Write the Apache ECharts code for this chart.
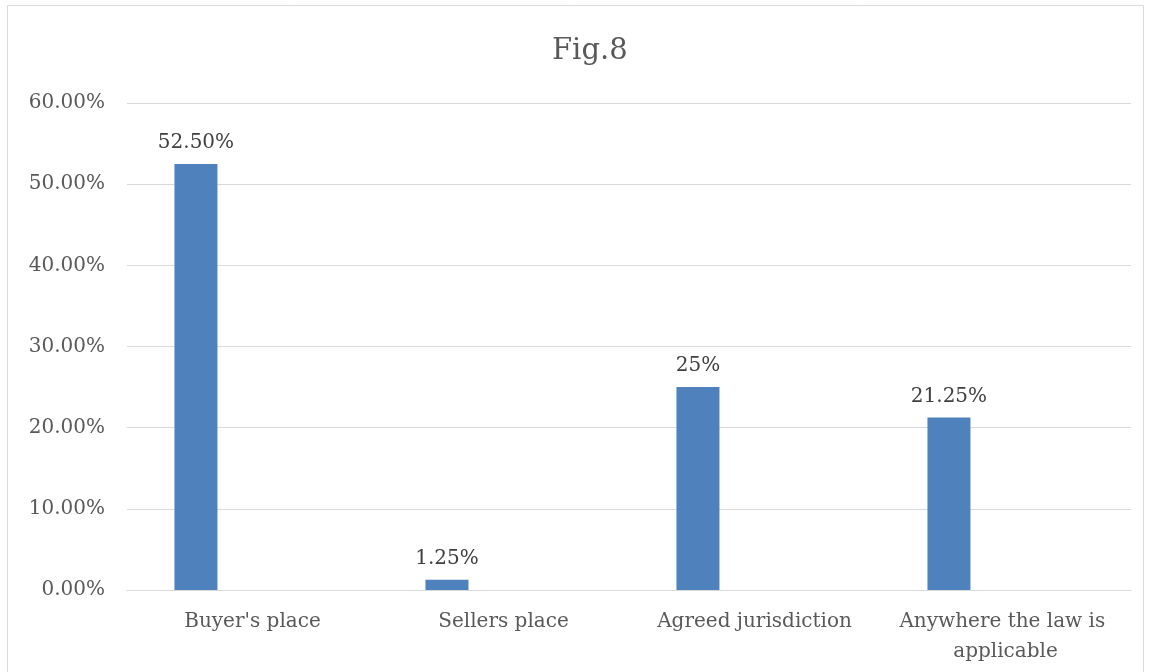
<!DOCTYPE html>
<html>
<head>
<meta charset="utf-8">
<script src="https://cdn.jsdelivr.net/npm/echarts@6/dist/echarts.min.js"></script>
<style>
html,body{margin:0;padding:0;background:#fff;}
#chart{width:1149px;height:672px;}
</style>
</head>
<body>
<div id="chart"></div>
<script>
const categories = ["Buyer's place", "Sellers place", "Agreed jurisdiction", "Anywhere the law is applicable"];
const values = [0.525, 0.0125, 0.25, 0.2125];
const valueLabels = ["52.50%", "1.25%", "25%", "21.25%"];
const emptySeries = [null, null, null, null];
const yTicks = [0, 0.1, 0.2, 0.3, 0.4, 0.5, 0.6];

const FONT = "DejaVu Serif";
const chart = echarts.init(document.getElementById('chart'));
chart.setOption({
  animation: false,
  title: {
    text: 'Fig.8', left: 547, top: 32,
    textStyle: { fontFamily: FONT, fontSize: 29, fontWeight: 'normal', color: '#595959' }
  },
  graphic: [{
    type: 'rect', silent: true,
    shape: { x: 7.5, y: 5.5, width: 1136, height: 720 },
    style: { fill: 'none', stroke: '#D9D9D9', lineWidth: 1 }
  }],
  grid: { left: 127, right: 18, top: 103, bottom: 82 },
  xAxis: {
    type: 'category', data: categories,
    axisLine: { show: true, lineStyle: { color: '#D9D9D9', width: 1 } },
    axisTick: { show: false },
    axisLabel: {
      fontFamily: FONT, fontSize: 20, color: '#595959', margin: 17,
      interval: 0, width: 235, overflow: 'break', lineHeight: 30
    }
  },
  yAxis: {
    type: 'value', min: yTicks[0], max: yTicks[yTicks.length - 1], interval: 0.1,
    axisLine: { show: false }, axisTick: { show: false },
    splitLine: { lineStyle: { color: '#D9D9D9', width: 1 } },
    axisLabel: {
      fontFamily: FONT, fontSize: 20, color: '#595959', margin: 22,
      formatter: v => (v * 100).toFixed(2) + '%'
    }
  },
  series: [{
    type: 'bar', data: values, barWidth: 43, barGap: '163%',
    itemStyle: { color: '#4F81BD' },
    label: {
      show: true, position: 'top', distance: 11,
      fontFamily: FONT, fontSize: 20, color: '#404040',
      formatter: p => valueLabels[p.dataIndex]
    }
  }, {
    type: 'bar', data: emptySeries, barWidth: 43,
    itemStyle: { color: '#C0504D' }
  }]
});
</script>
</body>
</html>
